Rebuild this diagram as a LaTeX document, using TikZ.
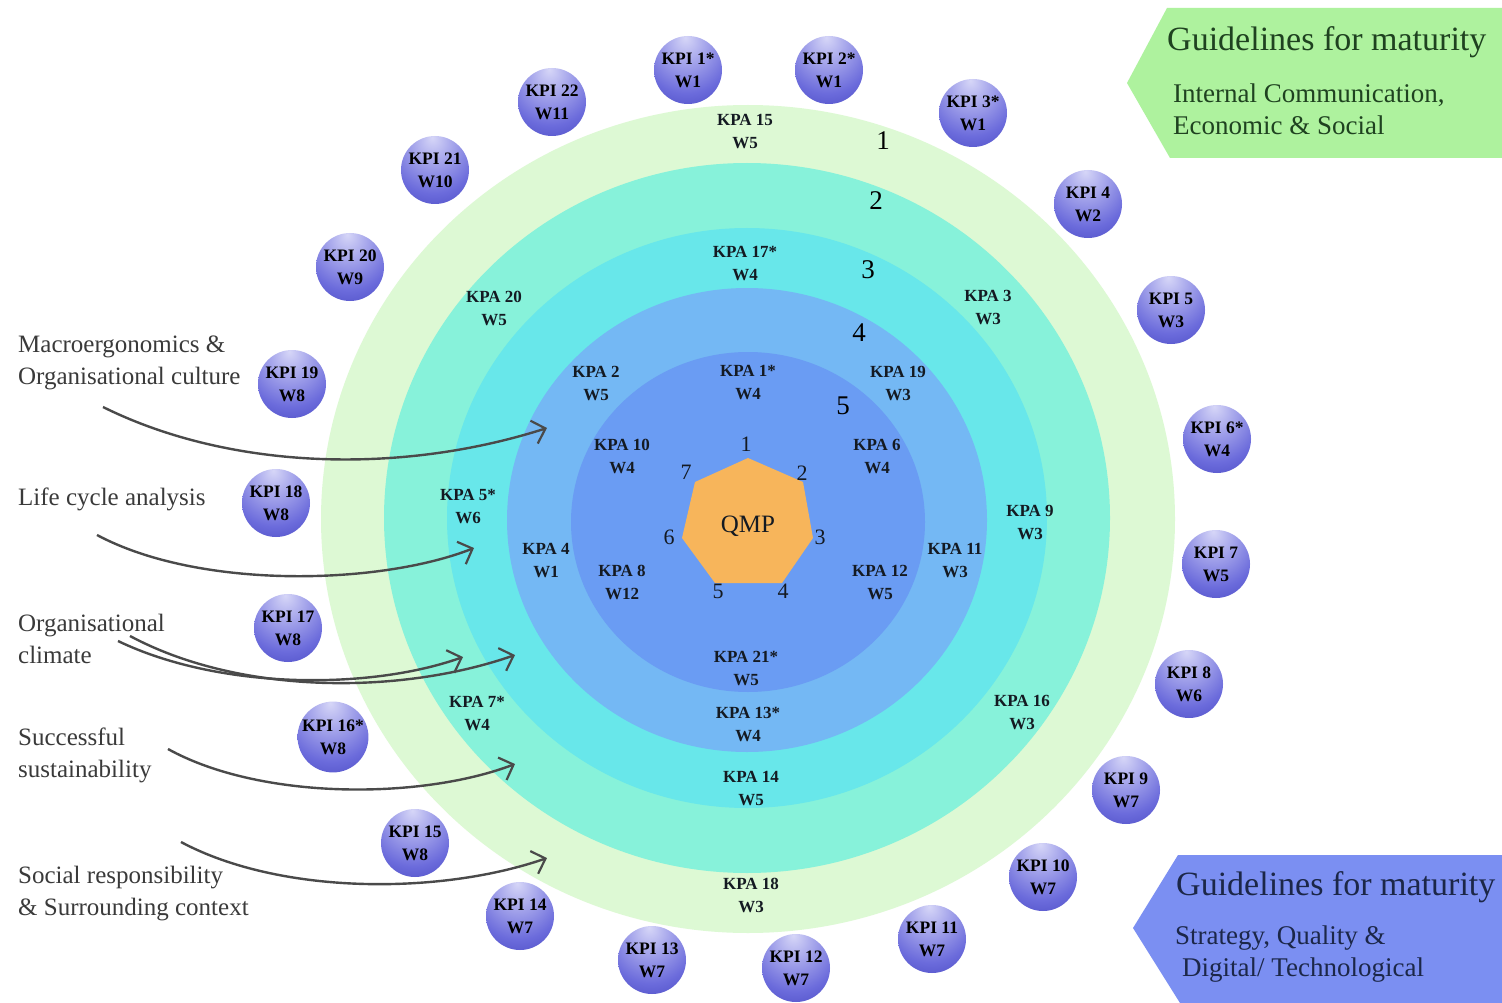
\documentclass[tikz,border=0pt]{standalone}
\usepackage{fontspec}
\setmainfont{Liberation Serif}
\usetikzlibrary{arrows.meta,shapes.geometric}
\definecolor{ringA}{HTML}{DDF9D4}
\definecolor{ringB}{HTML}{87F2DA}
\definecolor{ringC}{HTML}{68E7EA}
\definecolor{ringD}{HTML}{74B8F4}
\definecolor{ringE}{HTML}{6A9CF3}
\definecolor{qmpfill}{HTML}{F7B55B}
\definecolor{kpatext}{HTML}{141A22}
\definecolor{sidetext}{HTML}{3A3A3A}
\definecolor{arrowgrey}{HTML}{4A4A4A}
\definecolor{greenbox}{HTML}{AEF29E}
\definecolor{greentext}{HTML}{1F4220}
\definecolor{bluebox}{HTML}{7B8FF2}
\definecolor{bluetext}{HTML}{1C2748}
\pgfdeclareradialshading{kpiball}{\pgfpoint{-2bp}{24bp}}{rgb(0bp)=(0.84,0.84,0.97);rgb(12bp)=(0.68,0.68,0.93);rgb(32bp)=(0.42,0.42,0.86);rgb(50bp)=(0.26,0.26,0.74);rgb(66bp)=(0.19,0.19,0.62);rgb(82bp)=(0.18,0.18,0.58)}
\begin{document}
\begin{tikzpicture}[x=1pt,y=-1pt,
  kpa/.style={align=center,inner sep=0pt,font=\bfseries\fontsize{17}{23}\selectfont,text=kpatext},
  kpi/.style={circle,shading=kpiball,minimum size=68pt,inner sep=0pt,align=center,font=\bfseries\fontsize{17.5}{23}\selectfont,text=black},
  ringnum/.style={inner sep=0pt,font=\fontsize{27}{27}\selectfont,text=black},
  heptnum/.style={inner sep=0pt,font=\fontsize{22}{22}\selectfont,text=kpatext},
  side/.style={anchor=west,align=left,inner sep=0pt,font=\fontsize{25}{32}\selectfont,text=sidetext},
  flow/.style={draw=arrowgrey,line width=2.4pt,-{Straight Barb[length=12pt,width=24pt,line width=2.2pt]}}
]
\useasboundingbox (0,0) rectangle (1502,1003);
\fill[white] (0,0) rectangle (1502,1003);

% rings
\fill[ringA] (748,519) ellipse [x radius=427pt,y radius=414pt];
\fill[ringB] (747,518) ellipse [x radius=363pt,y radius=355pt];
\fill[ringC] (747,518) ellipse [x radius=300pt,y radius=290pt];
\fill[ringD] (747,520) ellipse [x radius=240pt,y radius=232pt];
\fill[ringE] (748,522) ellipse [x radius=177pt,y radius=170pt];

% QMP heptagon
\fill[qmpfill] (748,458) -- (803,482) -- (813,538) -- (782,583) -- (715,583) -- (682,538) -- (695,482) -- cycle;
\node[inner sep=0pt,font=\fontsize{25}{25}\selectfont,text=kpatext] (qmp) at (748,526) {QMP};
\node[heptnum] (h1) at (746,444) {1};
\node[heptnum] (h2) at (802,473) {2};
\node[heptnum] (h3) at (820,537) {3};
\node[heptnum] (h4) at (783,591) {4};
\node[heptnum] (h5) at (718,591) {5};
\node[heptnum] (h6) at (669,537) {6};
\node[heptnum] (h7) at (686,472) {7};

% ring numbers
\node[ringnum] (r1) at (883,141) {1};
\node[ringnum] (r2) at (876,201) {2};
\node[ringnum] (r3) at (868,270) {3};
\node[ringnum] (r4) at (859,333) {4};
\node[ringnum] (r5) at (843,406) {5};

% KPA labels
\foreach \n/\x/\y/\a/\b in {
  kpa15/745/132/KPA 15/W5, kpa17/745/264/KPA 17*/W4, kpa20/494/308/KPA 20/W5,
  kpa3/988/308/KPA 3/W3, kpa2/596/383/KPA 2/W5, kpa1/748/383/KPA 1*/W4,
  kpa19/898/383/KPA 19/W3, kpa10/622/456/KPA 10/W4, kpa6/877/456/KPA 6/W4,
  kpa5/468/507/KPA 5*/W6, kpa9/1030/522/KPA 9/W3, kpa4/546/561/KPA 4/W1,
  kpa11/955/561/KPA 11/W3, kpa8/622/582/KPA 8/W12, kpa12/880/582/KPA 12/W5,
  kpa21/746/668/KPA 21*/W5, kpa7/477/714/KPA 7*/W4, kpa16/1022/712/KPA 16/W3,
  kpa13/748/724/KPA 13*/W4, kpa14/751/789/KPA 14/W5, kpa18/751/895/KPA 18/W3}
  \node[kpa] (\n) at (\x,\y) {\a\\\b};

% KPI balls
\foreach \n/\x/\y/\a/\b in {
  kpi1/688/70/KPI 1*/W1, kpi2/829/70/KPI 2*/W1, kpi3/973/113/KPI 3*/W1,
  kpi4/1088/204/KPI 4/W2, kpi5/1171/310/KPI 5/W3, kpi6/1217/439/KPI 6*/W4,
  kpi7/1216/564/KPI 7/W5, kpi8/1189/684/KPI 8/W6, kpi9/1126/790/KPI 9/W7,
  kpi10/1043/877/KPI 10/W7, kpi11/932/939/KPI 11/W7, kpi12/796/968/KPI 12/W7,
  kpi13/652/960/KPI 13/W7, kpi14/520/916/KPI 14/W7, kpi15/415/843/KPI 15/W8,
  kpi16/333/737/KPI 16*/W8, kpi17/288/628/KPI 17/W8, kpi18/276/503/KPI 18/W8,
  kpi19/292/384/KPI 19/W8, kpi20/350/267/KPI 20/W9, kpi21/435/170/KPI 21/W10,
  kpi22/552/102/KPI 22/W11}
  \node[kpi] (\n) at (\x,\y) {\a\\\b};

% side labels
\node[side] (macro) at (18,363) {Macroergonomics \&\\Organisational culture};
\node[side] (life) at (18,499) {Life cycle analysis};
\node[side] (climate) at (18,639) {Organisational\\climate};
\node[side] (success) at (18,755) {Successful\\sustainability};
\node[side] (social) at (18,894) {Social responsibility\\\& Surrounding context};

% arrow ends
\coordinate (macroS) at (103,407);
\coordinate (macroE) at (547,428);
\coordinate (lifeS) at (97,535);
\coordinate (lifeE) at (474,548);
\coordinate (climS1) at (118,641);
\coordinate (climE1) at (463,657);
\coordinate (climS2) at (130,636);
\coordinate (climE2) at (515,655);
\coordinate (succS) at (168,749);
\coordinate (succE) at (515,764);
\coordinate (socS) at (181,842);
\coordinate (socE) at (547,858);

\draw[flow] (macroS) .. controls (230,470) and (400,475) .. (macroE);
\draw[flow] (lifeS) .. controls (200,590) and (380,585) .. (lifeE);
\draw[flow] (climS1) .. controls (220,690) and (370,690) .. (climE1);
\draw[flow] (climS2) .. controls (240,695) and (400,695) .. (climE2);
\draw[flow] (succS) .. controls (260,800) and (420,800) .. (succE);
\draw[flow] (socS) .. controls (280,895) and (440,895) .. (socE);

% guideline boxes
\fill[greenbox] (1127,83) -- (1167,8) -- (1502,8) -- (1502,158) -- (1170,158) -- cycle;
\node[anchor=west,inner sep=0pt,font=\fontsize{34}{34}\selectfont,text=greentext] (g1title) at (1167,42) {Guidelines for maturity};
\node[anchor=west,align=left,inner sep=0pt,font=\fontsize{27}{32}\selectfont,text=greentext] (g1text) at (1173,109) {Internal Communication,\\Economic \& Social};

\fill[bluebox] (1133,928) -- (1178,855) -- (1502,855) -- (1502,1003) -- (1180,1003) -- cycle;
\node[anchor=west,inner sep=0pt,font=\fontsize{34}{34}\selectfont,text=bluetext] (g2title) at (1176,887) {Guidelines for maturity};
\node[anchor=west,align=left,inner sep=0pt,font=\fontsize{27}{32}\selectfont,text=bluetext] (g2text) at (1175,954) {Strategy, Quality \&\\\hspace{7pt}Digital/ Technological};
\end{tikzpicture}
\end{document}
